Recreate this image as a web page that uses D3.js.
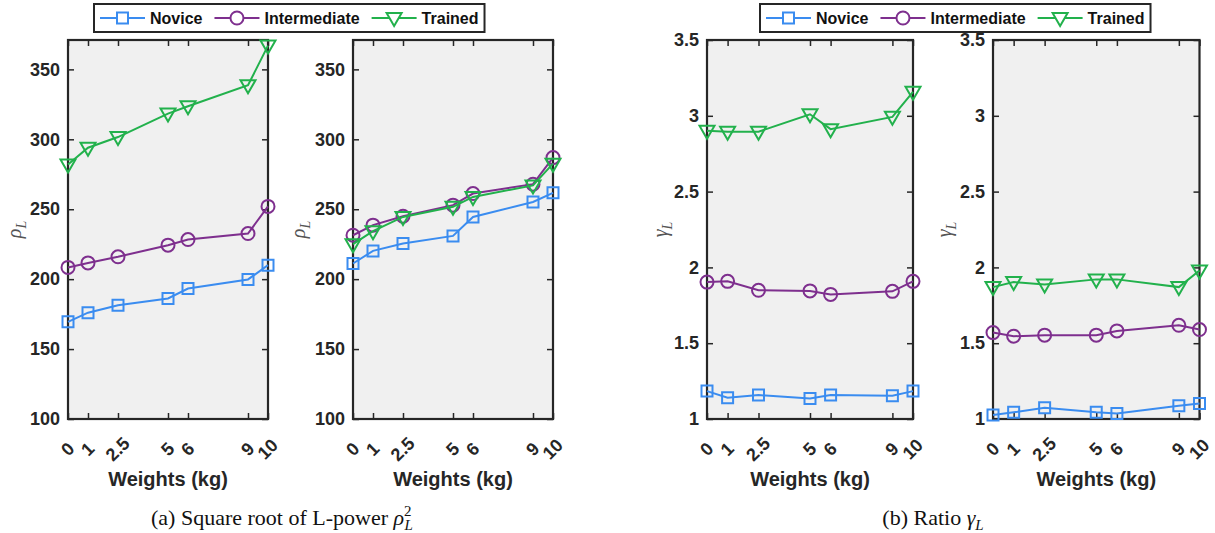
<!DOCTYPE html>
<html>
<head>
    <meta charset="utf-8">
    <style>
        body {
            margin: 0;
            background: #fff;
        }

        svg {
            display: block;
        }

        .tick line {
            stroke: #262626;
            stroke-width: 1.5px;
        }

        .tick text {
            font-family: "Liberation Sans", Arial, sans-serif;
            font-weight: bold;
            font-size: 18px;
            fill: #262626;
        }

        .domain {
            display: none;
        }

        .frame {
            fill: none;
            stroke: #262626;
            stroke-width: 2.2px;
        }

        .x-label {
            font-family: "Liberation Sans", Arial, sans-serif;
            font-weight: bold;
            font-size: 20px;
            fill: #262626;
            text-anchor: middle;
        }

        .y-label {
            font-family: "Liberation Serif", "Times New Roman", serif;
            font-style: italic;
            font-size: 20px;
            fill: #555;
            text-anchor: middle;
        }

        .legend text {
            font-family: "Liberation Sans", Arial, sans-serif;
            font-weight: bold;
            font-size: 16px;
            fill: #111;
        }

        .caption {
            font-family: "Liberation Serif", "Times New Roman", serif;
            font-size: 22px;
            fill: #111;
            text-anchor: middle;
        }
    </style>
</head>

<body>
    <svg width="1215" height="533"></svg>
</body>

<script src="https://cdn.jsdelivr.net/npm/d3@7"></script>

<script>
    // weights on the x axis
    let weights = [0, 1, 2.5, 5, 6, 9, 10]
    let weightLabels = ["0", "1", "2.5", "5", "6", "9", "10"]

    let groups = ["Novice", "Intermediate", "Trained"]

    let rhoTicks = [100, 150, 200, 250, 300, 350]
    let rhoTickLabels = ["100", "150", "200", "250", "300", "350"]
    let gammaTicks = [1, 1.5, 2, 2.5, 3, 3.5]
    let gammaTickLabels = ["1", "1.5", "2", "2.5", "3", "3.5"]

    // (a) first panel
    let rhoLeftNovice = [169.5, 176, 181.4, 186.2, 193.3, 199.8, 210]
    let rhoLeftIntermediate = [208.4, 211.6, 216, 224.3, 228.3, 232.6, 252]
    let rhoLeftTrained = [282, 294, 301.6, 318.4, 323.6, 338.6, 367]

    // (a) second panel
    let rhoRightNovice = [211.2, 220.2, 225.5, 230.9, 244.5, 255.2, 261.7]
    let rhoRightIntermediate = [231.4, 238.6, 245, 252.9, 261.2, 267.9, 286.9]
    let rhoRightTrained = [225, 234.3, 244.5, 251.7, 258.8, 267, 282.6]

    // (b) first panel
    let gammaLeftNovice = [1.184, 1.14, 1.158, 1.136, 1.158, 1.153, 1.184]
    let gammaLeftIntermediate = [1.903, 1.908, 1.849, 1.845, 1.822, 1.842, 1.908]
    let gammaLeftTrained = [2.901, 2.895, 2.895, 3.01, 2.912, 2.993, 3.158]

    // (b) second panel
    let gammaRightNovice = [1.026, 1.044, 1.074, 1.044, 1.037, 1.088, 1.103]
    let gammaRightIntermediate = [1.570, 1.546, 1.553, 1.553, 1.581, 1.618, 1.590]
    let gammaRightTrained = [1.870, 1.903, 1.888, 1.921, 1.921, 1.870, 1.980]

    let colors = ["#3a8cf0", "#7e2f8e", "#22b14c"]

    let svg = d3.select("svg")

    let plotTop = 40
    let plotBottom = 419

    let panels = [
        { left: 68, right: 268, yDomain: [100, 371], ticks: rhoTicks, tickLabels: rhoTickLabels,
          label: "ρ", labelX: 21, series: [rhoLeftNovice, rhoLeftIntermediate, rhoLeftTrained] },
        { left: 353, right: 553, yDomain: [100, 371], ticks: rhoTicks, tickLabels: rhoTickLabels,
          label: "ρ", labelX: 305, series: [rhoRightNovice, rhoRightIntermediate, rhoRightTrained] },
        { left: 707, right: 913, yDomain: [1, 3.5], ticks: gammaTicks, tickLabels: gammaTickLabels,
          label: "γ", labelX: 667, series: [gammaLeftNovice, gammaLeftIntermediate, gammaLeftTrained] },
        { left: 993, right: 1199.5, yDomain: [1, 3.5], ticks: gammaTicks, tickLabels: gammaTickLabels,
          label: "γ", labelX: 951, series: [gammaRightNovice, gammaRightIntermediate, gammaRightTrained] }
    ]

    // marker shapes
    let markerPath = [
        "M-5.5,-5.5H5.5V5.5H-5.5Z",
        d3.arc()({ innerRadius: 0, outerRadius: 6.5, startAngle: 0, endAngle: 2 * Math.PI }),
        "M-7.5,-5L7.5,-5L0,8Z"
    ]

    panels.forEach(function (p) {
        let x = d3.scaleLinear()
            .domain([0, 10])
            .range([p.left, p.right])

        let y = d3.scaleLinear()
            .domain(p.yDomain)
            .range([plotBottom, plotTop])

        let g = svg.append("g")

        g.append("rect")
            .attr("x", p.left)
            .attr("y", plotTop)
            .attr("width", p.right - p.left)
            .attr("height", plotBottom - plotTop)
            .attr("fill", "#f0f0f0")

        // ticks point inwards on all four sides
        g.append("g")
            .attr("transform", `translate(${p.left},0)`)
            .call(d3.axisLeft(y)
                .tickValues(p.ticks)
                .tickFormat((d, i) => p.tickLabels[i])
                .tickSize(-6)
                .tickPadding(8))

        g.append("g")
            .attr("transform", `translate(${p.right},0)`)
            .call(d3.axisRight(y)
                .tickValues(p.ticks)
                .tickFormat("")
                .tickSize(-6))

        g.append("g")
            .attr("transform", `translate(0,${plotTop})`)
            .call(d3.axisTop(x)
                .tickValues(weights)
                .tickFormat("")
                .tickSize(-6))

        g.append("g")
            .attr("transform", `translate(0,${plotBottom})`)
            .call(d3.axisBottom(x)
                .tickValues(weights)
                .tickFormat((d, i) => weightLabels[i])
                .tickSize(-6))
            .call(a => a.selectAll(".tick text")
                .attr("y", null)
                .attr("dy", "0.35em")
                .attr("text-anchor", "middle")
                .attr("transform", "translate(-1,30) rotate(-45)"))

        g.append("rect")
            .attr("class", "frame")
            .attr("x", p.left)
            .attr("y", plotTop)
            .attr("width", p.right - p.left)
            .attr("height", plotBottom - plotTop)

        g.append("text")
            .attr("class", "x-label")
            .attr("x", (p.left + p.right) / 2)
            .attr("y", 486)
            .text("Weights (kg)")

        let yl = g.append("text")
            .attr("class", "y-label")
            .attr("transform", `translate(${p.labelX},${(plotTop + plotBottom) / 2}) rotate(-90)`)
        yl.append("tspan").text(p.label)
        yl.append("tspan")
            .attr("font-size", "14px")
            .attr("dy", 5)
            .text("L")

        let line = d3.line()
            .x((d, i) => x(weights[i]))
            .y(d => y(d))

        p.series.forEach(function (values, k) {
            g.append("path")
                .attr("d", line(values))
                .attr("fill", "none")
                .attr("stroke", colors[k])
                .attr("stroke-width", 2)

            g.selectAll(null)
                .data(values)
                .join("path")
                .attr("transform", (d, i) => `translate(${x(weights[i])},${y(d)})`)
                .attr("d", markerPath[k])
                .attr("fill", "none")
                .attr("stroke", colors[k])
                .attr("stroke-width", 2)
        })
    })

    // legends, one above each figure
    function legend(left) {
        let lg = svg.append("g")
            .attr("class", "legend")
            .attr("transform", `translate(${left},4)`)

        let box = lg.append("rect")
            .attr("x", 0)
            .attr("y", 0)
            .attr("height", 28)
            .attr("fill", "#fff")
            .attr("stroke", "#262626")
            .attr("stroke-width", 2)

        let cx = 6
        groups.forEach(function (name, k) {
            lg.append("line")
                .attr("x1", cx)
                .attr("x2", cx + 45)
                .attr("y1", 14)
                .attr("y2", 14)
                .attr("stroke", colors[k])
                .attr("stroke-width", 2)

            lg.append("path")
                .attr("transform", `translate(${cx + 22.5},14)`)
                .attr("d", markerPath[k])
                .attr("fill", "#fff")
                .attr("stroke", colors[k])
                .attr("stroke-width", 2)

            let t = lg.append("text")
                .attr("x", cx + 50)
                .attr("y", 14)
                .attr("dy", "0.35em")
                .text(name)

            cx += 50 + t.node().getComputedTextLength() + 12
        })

        box.attr("width", cx - 6)
    }

    legend(94)
    legend(760)

    // captions
    let capA = svg.append("text")
        .attr("class", "caption")
        .attr("x", 282)
        .attr("y", 525)
    capA.append("tspan").text("(a) Square root of L-power ")
    capA.append("tspan").attr("font-style", "italic").text("ρ")
    capA.append("tspan").attr("font-size", "15px").attr("dy", -9).text("2")
    capA.append("tspan").attr("font-size", "15px").attr("font-style", "italic").attr("dx", -7).attr("dy", 14).text("L")

    let capB = svg.append("text")
        .attr("class", "caption")
        .attr("x", 933)
        .attr("y", 525)
    capB.append("tspan").text("(b) Ratio ")
    capB.append("tspan").attr("font-style", "italic").text("γ")
    capB.append("tspan").attr("font-size", "15px").attr("font-style", "italic").attr("dy", 5).text("L")
</script>
</html>
